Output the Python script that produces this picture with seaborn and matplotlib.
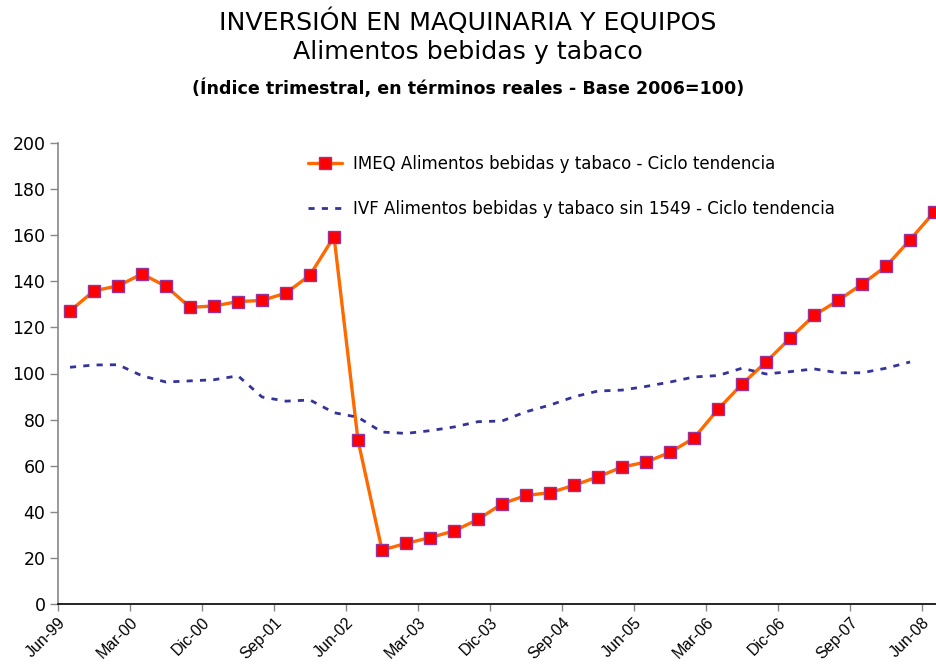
import matplotlib
matplotlib.use("Agg")
import matplotlib.pyplot as plt
import seaborn as sns
import pandas as pd
import numpy as np

quarters = ["Jun-99","Sep-99","Dic-99","Mar-00","Jun-00","Sep-00","Dic-00","Mar-01","Jun-01","Sep-01","Dic-01","Mar-02",
            "Jun-02","Sep-02","Dic-02","Mar-03","Jun-03","Sep-03","Dic-03","Mar-04","Jun-04","Sep-04","Dic-04","Mar-05",
            "Jun-05","Sep-05","Dic-05","Mar-06","Jun-06","Sep-06","Dic-06","Mar-07","Jun-07","Sep-07","Dic-07","Mar-08","Jun-08"]
tick_labels = ["Jun-99","Mar-00","Dic-00","Sep-01","Jun-02","Mar-03","Dic-03","Sep-04","Jun-05","Mar-06","Dic-06","Sep-07","Jun-08"]

imeq = [127.1, 135.9, 138.0, 143.2, 137.8, 128.7, 129.3, 131.2, 131.7, 134.9, 142.7, 159.4,
        71.0, 23.4, 26.3, 28.8, 31.7, 36.7, 43.5, 47.1, 48.3, 51.5, 55.2, 59.4,
        61.6, 65.8, 72.0, 84.5, 95.4, 105.0, 115.3, 125.2, 131.7, 138.8, 146.5, 158.0, 170.0]
ivf = [102.7, 103.7, 103.8, 99.0, 96.3, 96.8, 97.3, 99.0, 89.8, 88.0, 88.5, 83.0,
       81.0, 74.6, 74.0, 75.2, 76.8, 79.1, 79.4, 83.4, 86.3, 89.9, 92.4, 92.8,
       94.4, 96.3, 98.5, 99.1, 102.3, 99.8, 100.8, 102.0, 100.3, 100.3, 102.3, 105.0]

name1 = "IMEQ Alimentos bebidas y tabaco - Ciclo tendencia"
name2 = "IVF Alimentos bebidas y tabaco sin 1549 - Ciclo tendencia"

df1 = pd.DataFrame({"x": np.arange(len(imeq)), "y": imeq})
df2 = pd.DataFrame({"x": np.arange(len(ivf)), "y": ivf})

sns.set_style("white")
plt.rcParams['font.family'] = ['DejaVu Sans']
plt.rcParams['text.color'] = 'black'
plt.rcParams['xtick.color'] = 'black'
plt.rcParams['ytick.color'] = 'black'

fig = plt.figure(figsize=(9.36, 6.69), dpi=100)
ax = fig.add_axes([58/936, 65/669, 1 - 58/936, (604-143)/669])

sns.lineplot(data=df1, x="x", y="y", ax=ax, color="#FF6A00", linewidth=2.4,
             marker="s", markersize=8.5, markerfacecolor="#FF0000",
             markeredgecolor="#993399", markeredgewidth=1.0, label=name1)
sns.lineplot(data=df2, x="x", y="y", ax=ax, color="#333399", linewidth=2.0,
             dashes=False, label=name2)
ax.lines[-1].set_dashes([2.2, 2.6])

ax.set_xlim(-0.5, 36.08)
ax.set_ylim(0, 200)
ax.set_yticks(np.arange(0, 201, 20))
ax.set_xticks(np.arange(len(tick_labels)) * 3 - 0.5)
ax.set_xticklabels(tick_labels, rotation=45, ha="right", rotation_mode="anchor",
                   fontsize=11.5, family="Liberation Sans")
ax.tick_params(axis="y", labelsize=12.5, length=6, width=1, color="#888888", direction="out", left=True, pad=3)
ax.tick_params(axis="x", length=5, width=1, color="#888888", direction="out", bottom=True, pad=3)
ax.set_xlabel("")
ax.set_ylabel("")
for s in ["top", "right"]:
    ax.spines[s].set_visible(False)
ax.spines["left"].set_color("#888888")
ax.spines["bottom"].set_color("#000000")
ax.spines["left"].set_linewidth(1.2)
ax.spines["bottom"].set_linewidth(1.2)

leg = ax.legend(loc="upper left", bbox_to_anchor=(0.268, 1.006), frameon=False,
                fontsize=12.0, handlelength=2.0, labelspacing=1.6, handletextpad=0.7)

fig.text(0.5, 1 - 22/669, "INVERSIÓN EN MAQUINARIA Y EQUIPOS", ha="center", va="center", fontsize=18.2)
fig.text(0.5, 1 - 52/669, "Alimentos bebidas y tabaco", ha="center", va="center", fontsize=18.2)
fig.text(0.5, 1 - 88/669, "(Índice trimestral, en términos reales - Base 2006=100)", ha="center", va="center",
         fontsize=12.6, fontweight="bold")

fig.savefig("out.png", dpi=100)
